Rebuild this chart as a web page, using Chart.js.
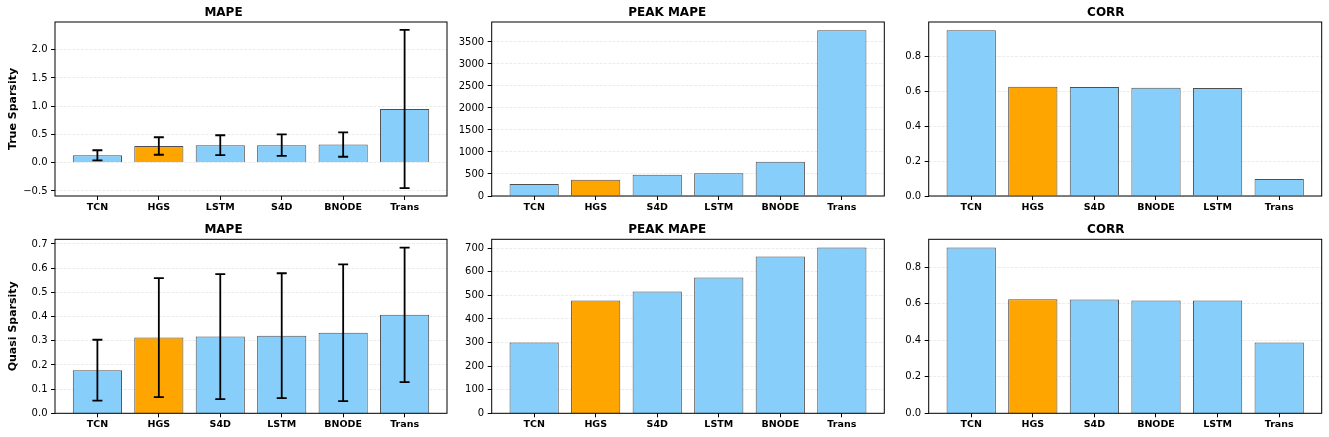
<!DOCTYPE html>
<html>
<head>
<meta charset="utf-8">
<title>Sparsity metrics</title>
<script src="https://cdn.jsdelivr.net/npm/chart.js@4.4.1/dist/chart.umd.min.js"></script>
<style>
  html, body { margin: 0; padding: 0; background: #fff; }
  body { width: 1329px; height: 437px; position: relative; overflow: hidden; }
  .panel { position: absolute; }
</style>
</head>
<body>
<div class="panel" id="p0"><canvas></canvas></div>
<div class="panel" id="p1"><canvas></canvas></div>
<div class="panel" id="p2"><canvas></canvas></div>
<div class="panel" id="p3"><canvas></canvas></div>
<div class="panel" id="p4"><canvas></canvas></div>
<div class="panel" id="p5"><canvas></canvas></div>
<script>
// --- data ---
const trueMapeLabels = ['TCN', 'HGS', 'LSTM', 'S4D', 'BNODE', 'Trans'];
const trueMapeValues = [0.13, 0.295, 0.31, 0.31, 0.32, 0.95];
const trueMapeErr = [0.09, 0.155, 0.175, 0.19, 0.215, 1.40];

const truePeakLabels = ['TCN', 'HGS', 'S4D', 'LSTM', 'BNODE', 'Trans'];
const truePeakValues = [272, 370, 484, 514, 778, 3764];

const trueCorrLabels = ['TCN', 'HGS', 'S4D', 'BNODE', 'LSTM', 'Trans'];
const trueCorrValues = [0.947, 0.625, 0.623, 0.619, 0.617, 0.097];

const quasiMapeLabels = ['TCN', 'HGS', 'S4D', 'LSTM', 'BNODE', 'Trans'];
const quasiMapeValues = [0.178, 0.313, 0.317, 0.321, 0.333, 0.407];
const quasiMapeErr = [0.126, 0.246, 0.258, 0.258, 0.283, 0.278];

const quasiPeakLabels = ['TCN', 'HGS', 'S4D', 'LSTM', 'BNODE', 'Trans'];
const quasiPeakValues = [300.6, 478, 516.5, 575.8, 664.7, 702.8];

const quasiCorrLabels = ['TCN', 'HGS', 'S4D', 'BNODE', 'LSTM', 'Trans'];
const quasiCorrValues = [0.908, 0.625, 0.623, 0.618, 0.618, 0.388];

const trueMapeTicks = [-0.5, 0, 0.5, 1, 1.5, 2];
const truePeakTicks = [0, 500, 1000, 1500, 2000, 2500, 3000, 3500];
const quasiMapeTicks = [0, 0.1, 0.2, 0.3, 0.4, 0.5, 0.6, 0.7];
const quasiPeakTicks = [0, 100, 200, 300, 400, 500, 600, 700];
const corrTicks = [0, 0.2, 0.4, 0.6, 0.8];

const HIGHLIGHT = 'HGS';
const BAR_COLOR = '#87CEFA';
const HIGHLIGHT_COLOR = '#FFA500';

Chart.defaults.font.family = '"DejaVu Sans", sans-serif';
Chart.defaults.color = '#000';

// matplotlib style autoscale: 5% margin, bars stick to zero
function yLimits(values, errors) {
  const lows = values.map((v, i) => v - (errors ? errors[i] : 0));
  const highs = values.map((v, i) => v + (errors ? errors[i] : 0));
  const lo = Math.min(0, ...lows);
  const hi = Math.max(...highs);
  const pad = 0.05 * (hi - lo);
  return { min: lo < 0 ? lo - pad : 0, max: hi + pad };
}

const fmt = (v, d) => v.toFixed(d).replace('-', '\u2212');

const framePlugin = {
  id: 'frame',
  afterDraw(chart) {
    const { ctx, chartArea: a } = chart;
    ctx.save();
    ctx.strokeStyle = '#000';
    ctx.lineWidth = 1;
    ctx.strokeRect(a.left, a.top, a.right - a.left, a.bottom - a.top);
    ctx.restore();
  }
};

function errorBarPlugin(errors, values) {
  return {
    id: 'errorBars',
    afterDatasetsDraw(chart) {
      if (!errors) return;
      const { ctx } = chart;
      const xs = chart.scales.x, ys = chart.scales.y;
      ctx.save();
      ctx.strokeStyle = '#000';
      ctx.lineWidth = 1.8;
      values.forEach((v, i) => {
        const x = xs.getPixelForValue(i);
        const y1 = ys.getPixelForValue(v + errors[i]);
        const y2 = ys.getPixelForValue(v - errors[i]);
        ctx.beginPath();
        ctx.moveTo(x, y1); ctx.lineTo(x, y2);
        ctx.moveTo(x - 5, y1); ctx.lineTo(x + 5, y1);
        ctx.moveTo(x - 5, y2); ctx.lineTo(x + 5, y2);
        ctx.stroke();
      });
      ctx.restore();
    }
  };
}

function makePanel(id, box, title, labels, values, errors, ticks, decimals, yTitle) {
  const el = document.getElementById(id);
  Object.assign(el.style, {
    left: box.left + 'px', top: box.top + 'px',
    width: box.width + 'px', height: box.height + 'px'
  });
  const lim = yLimits(values, errors);
  const n = labels.length;
  const xPad = 0.05 * (n - 1 + 0.8);

  new Chart(el.querySelector('canvas'), {
    type: 'bar',
    data: {
      datasets: [{
        data: values.map((v, i) => ({ x: i, y: v })),
        backgroundColor: labels.map(l => l === HIGHLIGHT ? HIGHLIGHT_COLOR : BAR_COLOR),
        borderColor: 'rgba(20,20,20,0.75)',
        borderWidth: 1,
        barPercentage: 0.8,
        categoryPercentage: 1.0
      }]
    },
    options: {
      responsive: true,
      maintainAspectRatio: false,
      animation: false,
      layout: { padding: { left: 0, right: box.padRight, top: 0, bottom: 0 } },
      plugins: {
        legend: { display: false },
        tooltip: { enabled: false },
        title: {
          display: true, text: title,
          font: { size: 12, weight: 'bold', lineHeight: 1.2 },
          padding: { top: box.titleTop, bottom: 22 - 14.4 - box.titleTop - (rowsShift(box)) }
        }
      },
      scales: {
        x: {
          type: 'linear',
          offset: false,
          min: -0.4 - xPad,
          max: n - 1 + 0.4 + xPad,
          afterBuildTicks: s => { s.ticks = labels.map((_, i) => ({ value: i })); },
          afterFit: s => { s.height = box.xHeight; },
          ticks: {
            callback: v => labels[v],
            font: { size: 9.5, weight: 'bold' },
            padding: 1.5, maxRotation: 0, autoSkip: false
          },
          grid: { drawOnChartArea: false, offset: false, tickLength: 4, tickColor: '#000', tickWidth: 1 },
          border: { display: false }
        },
        y: {
          min: lim.min,
          max: lim.max,
          afterBuildTicks: s => { s.ticks = ticks.map(v => ({ value: v })); },
          afterFit: s => { s.width = box.yWidth; },
          ticks: { callback: v => fmt(v, decimals), font: { size: 10 }, padding: 3.5 },
          grid: {
            color: 'rgba(176,176,176,0.3)', lineWidth: 0.8,
            tickLength: 4, tickColor: '#000', tickWidth: 1, tickBorderDash: []
          },
          border: { display: false, dash: [3, 1.3] },
          title: {
            display: !!yTitle, text: yTitle || '',
            font: { size: 11, weight: 'bold', lineHeight: 1.2 },
            padding: { top: 6.2, bottom: 0 }
          }
        }
      }
    },
    plugins: [framePlugin, errorBarPlugin(errors, values)]
  });
}

// panel boxes (page pixels)
const cols = [
  { left: 0, width: 450, yWidth: 55, padRight: 3 },
  { left: 450, width: 440, yWidth: 41.7, padRight: 5.7 },
  { left: 890, width: 439, yWidth: 38.7, padRight: 7.3 }
];
const rows = [
  { top: 0, height: 218, xHeight: 22, titleTop: 5.7, areaTop: 22 },
  { top: 218, height: 219, xHeight: 23.7, titleTop: 5.0, areaTop: 21.3 }
];
// difference between the nominal 22px header and this row's chart-area top
function rowsShift(b) { return 22 - b.areaTop; }
const box = (r, c) => Object.assign({}, cols[c], rows[r]);

makePanel('p0', box(0, 0), 'MAPE', trueMapeLabels, trueMapeValues, trueMapeErr, trueMapeTicks, 1, 'True Sparsity');
makePanel('p1', box(0, 1), 'PEAK MAPE', truePeakLabels, truePeakValues, null, truePeakTicks, 0);
makePanel('p2', box(0, 2), 'CORR', trueCorrLabels, trueCorrValues, null, corrTicks, 1);
makePanel('p3', box(1, 0), 'MAPE', quasiMapeLabels, quasiMapeValues, quasiMapeErr, quasiMapeTicks, 1, 'Quasi Sparsity');
makePanel('p4', box(1, 1), 'PEAK MAPE', quasiPeakLabels, quasiPeakValues, null, quasiPeakTicks, 0);
makePanel('p5', box(1, 2), 'CORR', quasiCorrLabels, quasiCorrValues, null, corrTicks, 1);
</script>
</body>
</html>
